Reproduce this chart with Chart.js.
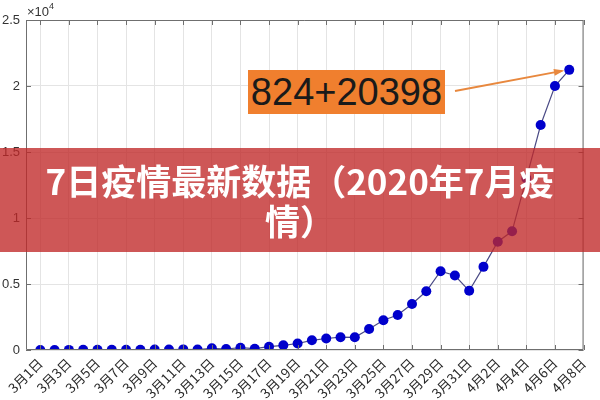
<!DOCTYPE html>
<html>
<head>
<meta charset="utf-8">
<script src="https://cdn.jsdelivr.net/npm/chart.js@4"></script>
<style>
  html, body { margin: 0; padding: 0; background: #fff; }
  #wrap { position: relative; width: 600px; height: 400px; overflow: hidden; }
  #c { position: absolute; left: 0; top: 0; }
  #exp { position: absolute; left: 27px; top: 3px; font: 13px "Liberation Sans", Arial, sans-serif; color: #333; }
  #exp sup { font-size: 9px; position: relative; top: -2px; }
  #note { position: absolute; left: 248px; top: 70px; width: 197px; height: 44px;
          background: #F07F2E; color: #1a1a1a; text-align: center;
          font: 38px/44px "Liberation Sans", Arial, sans-serif; }
  #banner { position: absolute; left: 0; top: 148px; width: 600px; height: 104px;
            background: rgba(192, 40, 40, 0.78); }
  #banner div { position: absolute; left: 30px; width: 540px; top: 12px; text-align: center;
                color: #fff; font-weight: bold; font-size: 35px; line-height: 40px;
                font-family: "Noto Sans CJK SC", sans-serif; }
</style>
</head>
<body>
<div id="wrap">
  <canvas id="c" width="600" height="400"></canvas>
  <div id="exp">×10<sup>4</sup></div>
  <div id="note">824+20398</div>
  <div id="banner"><div>7日疫情最新数据（2020年7月疫情）</div></div>
</div>
<script>
// Date labels (Mar 1 .. Apr 8); data covers Mar 1 .. Apr 7
const dateLabels = [
  '3月1日','3月2日','3月3日','3月4日','3月5日','3月6日','3月7日','3月8日','3月9日','3月10日',
  '3月11日','3月12日','3月13日','3月14日','3月15日','3月16日','3月17日','3月18日','3月19日','3月20日',
  '3月21日','3月22日','3月23日','3月24日','3月25日','3月26日','3月27日','3月28日','3月29日','3月30日',
  '3月31日','4月1日','4月2日','4月3日','4月4日','4月5日','4月6日','4月7日','4月8日'
];
const newCases = [
  5, 6, 8, 10, 12, 15, 20, 25, 30, 35,
  45, 30, 130, 75, 175, 100, 250, 355, 490, 735,
  870, 970, 960, 1590, 2250, 2650, 3485, 4450, 5970, 5645,
  4485, 6300, 8205, 8990, 13000, 17045, 20000, 21222
];
const yTickValues = [0, 5000, 10000, 15000, 20000, 25000];
const yTickLabels = ['0', '0.5', '1', '1.5', '2', '2.5'];
const annotationText = '824+20398';

const axisColor = '#6f6f6f';
const gridColor = '#e4e4e4';

const frame = {
  id: 'frame',
  afterDraw(chart) {
    const { ctx, chartArea: a, scales } = chart;
    ctx.save();
    ctx.strokeStyle = axisColor;
    ctx.lineWidth = 1;
    ctx.beginPath();
    ctx.rect(a.left + 0.5, a.top + 0.5, a.right - a.left - 1, a.bottom - a.top - 1);
    ctx.stroke();
    const L = 5;
    ctx.beginPath();
    scales.x.ticks.forEach(t => {
      const px = Math.round(scales.x.getPixelForValue(t.value)) + 0.5;
      ctx.moveTo(px, a.bottom); ctx.lineTo(px, a.bottom - L);
      ctx.moveTo(px, a.top); ctx.lineTo(px, a.top + L);
    });
    scales.y.ticks.forEach(t => {
      const py = Math.round(scales.y.getPixelForValue(t.value)) + 0.5;
      ctx.moveTo(a.left, py); ctx.lineTo(a.left + L, py);
      ctx.moveTo(a.right, py); ctx.lineTo(a.right - L, py);
    });
    ctx.stroke();
    // annotation arrow toward the last point
    const last = newCases.length - 1;
    const hx = scales.x.getPixelForValue(last) - 7;
    const hy = scales.y.getPixelForValue(newCases[last]) + 1;
    const tx = 455, ty = 91;
    ctx.strokeStyle = '#E8883E';
    ctx.fillStyle = '#E8883E';
    ctx.lineWidth = 2;
    ctx.beginPath(); ctx.moveTo(tx, ty); ctx.lineTo(hx, hy); ctx.stroke();
    const ang = Math.atan2(hy - ty, hx - tx);
    const H = 9;
    ctx.beginPath();
    ctx.moveTo(hx + 2 * Math.cos(ang), hy + 2 * Math.sin(ang));
    ctx.lineTo(hx - H * Math.cos(ang - 0.4), hy - H * Math.sin(ang - 0.4));
    ctx.lineTo(hx - H * Math.cos(ang + 0.4), hy - H * Math.sin(ang + 0.4));
    ctx.closePath(); ctx.fill();
    ctx.restore();
  }
};

new Chart(document.getElementById('c'), {
  type: 'line',
  data: {
    datasets: [{
      data: newCases.map((v, i) => ({ x: i, y: v })),
      borderColor: '#4b4b86',
      borderWidth: 1.2,
      backgroundColor: '#0000CC',
      pointBackgroundColor: '#0000CC',
      pointBorderColor: '#0000CC',
      pointRadius: 5,
      pointBorderWidth: 0,
      tension: 0
    }]
  },
  options: {
    responsive: false,
    animation: false,
    plugins: { legend: { display: false }, tooltip: { enabled: false } },
    layout: { padding: { top: 20, right: 10, left: 0, bottom: 0 } },
    scales: {
      x: {
        type: 'linear',
        min: -1,
        max: dateLabels.length - 1,
        afterBuildTicks(scale) {
          scale.ticks = dateLabels.map((d, i) => i).filter(i => i % 2 === 0).map(v => ({ value: v }));
        },
        afterFit(scale) { scale.height = 50; },
        grid: { color: gridColor, drawTicks: false },
        border: { display: false },
        ticks: {
          autoSkip: false,
          maxRotation: 45,
          minRotation: 45,
          padding: 5,
          color: '#2a2a2a',
          font: { family: '"Noto Sans CJK SC", sans-serif', size: 13.5 },
          callback: (v) => dateLabels[v]
        }
      },
      y: {
        min: 0,
        max: 25000,
        afterBuildTicks(scale) {
          scale.ticks = yTickValues.map(v => ({ value: v }));
        },
        afterFit(scale) { scale.width = 26; },
        grid: { color: gridColor, drawTicks: false },
        border: { display: false },
        ticks: {
          padding: 6,
          color: '#333',
          font: { family: '"Liberation Sans", Arial, sans-serif', size: 13 },
          callback: (v) => yTickLabels[yTickValues.indexOf(v)]
        }
      }
    }
  },
  plugins: [frame]
});
</script>
</body>
</html>
